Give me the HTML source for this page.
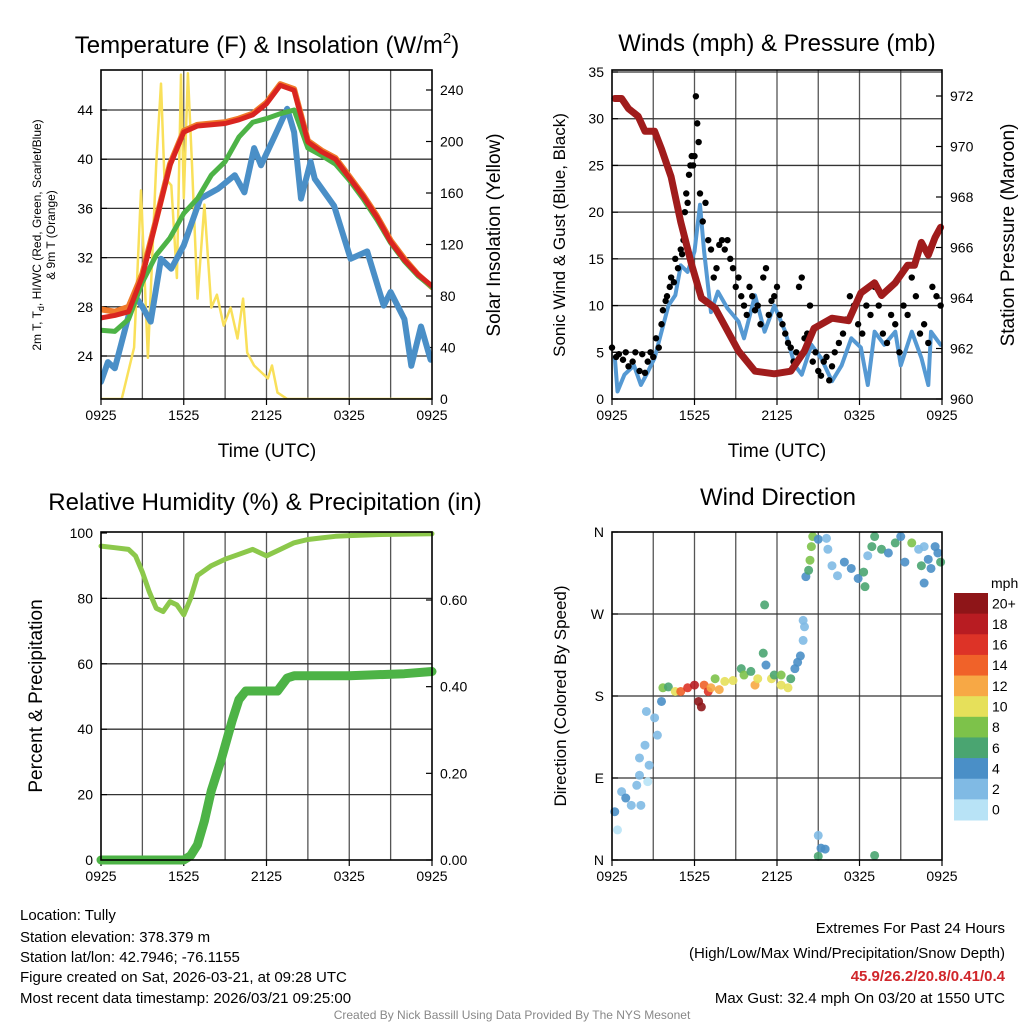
<!DOCTYPE html>
<html><head><meta charset="utf-8"><style>
body{margin:0;background:#fff;}
svg{display:block;font-family:"Liberation Sans",sans-serif;}
</style></head><body>
<svg id="s" width="1024" height="1024" viewBox="0 0 1024 1024">
<g id="titles" font-size="24" text-anchor="middle" fill="#000">
<text x="267" y="53">Temperature (F) &amp; Insolation (W/m<tspan dy="-10" font-size="15">2</tspan><tspan dy="10">)</tspan></text>
<text x="777" y="51">Winds (mph) &amp; Pressure (mb)</text>
<text x="265" y="510">Relative Humidity (%) &amp; Precipitation (in)</text>
<text x="778" y="505">Wind Direction</text>
</g>
<g id="axtitles" font-size="19" text-anchor="middle">
<text x="267" y="457">Time (UTC)</text>
<text x="777" y="457">Time (UTC)</text>
<text transform="translate(500,235) rotate(-90)">Solar Insolation (Yellow)</text>
<text transform="translate(565,235) rotate(-90)" font-size="17">Sonic Wind &amp; Gust (Blue, Black)</text>
<text transform="translate(1014,235) rotate(-90)">Station Pressure (Maroon)</text>
<text transform="translate(42,696) rotate(-90)">Percent &amp; Precipitation</text>
<text transform="translate(566,696) rotate(-90)" font-size="17">Direction (Colored By Speed)</text>
<text transform="translate(41,235) rotate(-90)" font-size="12">2m T, T<tspan font-size="9" dy="3">d</tspan><tspan dy="-3">, HI/WC (Red, Green, Scarlet/Blue)</tspan></text>
<text transform="translate(55,235) rotate(-90)" font-size="12">&amp; 9m T (Orange)</text>
</g>
<g id="footer" font-size="15">
<text x="20" y="920">Location: Tully</text>
<text x="20" y="942">Station elevation: 378.379 m</text>
<text x="20" y="962">Station lat/lon: 42.7946; -76.1155</text>
<text x="20" y="982">Figure created on Sat, 2026-03-21, at 09:28 UTC</text>
<text x="20" y="1003">Most recent data timestamp: 2026/03/21 09:25:00</text>
<g text-anchor="end">
<text x="1005" y="933">Extremes For Past 24 Hours</text>
<text x="1005" y="958">(High/Low/Max Wind/Precipitation/Snow Depth)</text>
<text x="1005" y="981" fill="#d0262b" font-weight="bold">45.9/26.2/20.8/0.41/0.4</text>
<text x="1005" y="1003">Max Gust: 32.4 mph On 03/20 at 1550 UTC</text>
</g>
<text x="512" y="1019" font-size="12" fill="#888" text-anchor="middle">Created By Nick Bassill Using Data Provided By The NYS Mesonet</text>
</g>
</svg>
<script>
// ---------- data ----------
const xTickLabels=["0925","1525","2125","0325","0925"];
const tempTimes=[0,1,2,3,4,5,6,7,8,9,10,11,12,13,14,15,16,17,18,19,20,21,22,23,24];
const tempRed=[27.1,27.3,27.6,30.5,35,39.5,42.2,42.7,42.8,42.9,43.2,43.6,44.5,46,45.6,41.4,40.6,40.0,38.5,37.0,35.3,33.3,31.8,30.6,29.7];
const tempOrange=[27.8,27.6,28.0,30.7,35.1,39.6,42.3,42.8,42.9,43.0,43.3,43.7,44.6,46.1,45.7,41.5,40.7,40.1,38.6,37.1,35.4,33.4,31.9,30.6,29.6];
const tempGreen=[26.1,26.0,27.0,30.0,32.2,33.6,35.6,36.8,38.7,39.8,41.8,43.0,43.3,43.7,44.0,40.9,40.3,39.6,38.3,36.8,35.1,33.2,31.7,30.5,29.6];
const wcTimes=[0,0.5,1,1.45,2.4,3.0,3.6,4.35,5.1,6,7.2,8.5,9.7,10.4,11.1,11.6,12.6,13.5,14,14.5,15.2,15.5,16.9,18.1,19.3,20.5,21,22,22.5,23.2,23.9];
const wcBlue=[21.9,23.5,23.0,24.9,29,28,26.8,31.9,31.1,33,36.8,37.6,38.7,37.3,40.9,39.5,41.9,44.1,42.2,36.8,39.8,38.4,36.2,31.9,32.5,28.1,29.2,27,23.2,26.4,23.7];
const solarTimes=[0,1.5,2.4,2.9,3.4,4.0,4.35,4.6,5.1,5.5,5.8,6.0,6.3,6.6,7.0,7.5,8.0,8.4,8.9,9.4,9.9,10.3,10.6,11.1,11.6,12.1,12.4,12.8,13.5,24];
const solarVals=[0,0,40,162,32,182,245,172,166,94,252,156,253,182,78,151,71,81,57,71,47,78,36,26,21,16,26,5,0,0];
const tempTicks=[24,28,32,36,40,44];
const solarTicks=[0,40,80,120,160,200,240];

const presTimes=[0.2,0.7,1.2,1.9,2.4,3.1,3.6,4.3,5.0,5.8,6.5,7.5,8.2,9.2,10.4,11.8,13.0,14.0,14.7,16.0,17.2,18.1,19.1,19.6,20.6,21.5,22.0,22.5,23.0,23.5,23.9];
const presVals=[971.9,971.9,971.5,971.2,970.6,970.6,969.9,968.8,967.0,965.3,964.0,963.6,962.9,961.9,961.1,961.0,961.1,961.9,962.8,963.2,963.1,964.2,964.6,964.1,964.6,965.3,965.3,966.2,965.7,966.4,966.8];
const windTimes=[0.2,0.4,0.9,1.6,2.1,2.6,3.1,3.6,4.1,4.6,5.0,5.5,6.0,6.4,6.7,7.2,7.7,8.4,9.2,9.6,10.4,11.1,11.8,12.6,13.3,13.8,14.5,15.2,16.0,16.7,17.4,18.1,18.6,19.1,19.8,20.6,21.0,21.8,22.5,23.0,23.2,23.9];
const windVals=[4.5,0.8,2.6,3.6,1.5,2.9,4.4,7.2,10,11.1,14.3,13.6,15.8,20.8,15.8,9.3,11.5,9.7,8.3,6.5,11.1,7.2,10,7.2,3.6,2.6,5.8,4.4,1.9,3.6,6.5,5.5,1.5,7.2,5.8,7.2,3.6,7.2,4.4,1.5,7.2,5.8];
const gustTimes=[0,0.3,0.5,0.8,1.0,1.2,1.5,1.7,2.0,2.2,2.4,2.6,2.8,3.0,3.2,3.4,
3.6,3.7,3.9,4.0,4.2,4.3,4.5,4.6,4.8,5.0,
5.1,5.2,5.3,5.4,5.5,5.6,5.7,5.8,5.9,6.0,6.1,6.2,6.3,6.4,
6.6,6.8,7.0,7.2,7.4,7.6,7.8,8.0,8.2,8.4,8.6,8.8,
9.0,9.2,9.4,9.6,9.8,10.0,10.2,10.4,10.6,10.8,11.0,11.2,11.4,11.6,11.8,
12.0,12.2,12.4,12.6,12.8,13.0,13.2,13.4,
13.6,13.8,14.0,14.2,14.4,14.6,14.8,15.0,15.2,15.4,15.6,15.8,16.0,16.2,
16.5,16.8,17.0,17.3,17.6,17.9,18.2,18.5,18.8,19.1,19.4,19.7,20.0,20.3,20.6,20.9,21.2,21.5,21.8,22.1,22.4,22.7,23.0,23.3,23.6,23.9];
const gustVals=[5.5,4.5,4.8,4.2,5,3.5,4,5,3,4.8,2.8,4,5,4.5,6.5,5.5,
8,9.5,10.5,11,12,13,12.5,15,14,16,
15.5,17,20,22,21,24,25,26,25,26,32.4,29.5,27.5,22,
19,21,17,16,13,14,16.5,17,16,17,15,14,
12,13,11,10,9,12,11,9.5,10,8,13,14,9,10.5,11,
12,9,8,7,6,5.5,4,5,
12,13,6.5,7,10,4,5,3,2.5,4,4.5,2,3.5,5,
6,7,8.5,11,10,8,7,10,9,12,10,7,6,9,8,5,10,9,13,11,7,8,6,12,11,10];
const windTicks=[0,5,10,15,20,25,30,35];
const presTicks=[960,962,964,966,968,970,972];

const rhTimes=[0,1,2,2.5,3,3.5,4,4.5,5,5.5,6,6.5,7,8,9,10,11,12,13,14,15,16,17,18,20,24];
const rhVals=[96,95.5,95,93,88,82,77,76,79,78,75,80,87,90,92,93.5,95,93,95,97,98,98.5,99,99.2,99.5,99.8];
const prTimes=[0,6.0,6.5,7,7.5,8,8.7,9.5,10,10.5,12.8,13.5,14,18,22,24];
const prVals=[0,0,0.01,0.035,0.09,0.16,0.23,0.32,0.37,0.39,0.39,0.42,0.425,0.425,0.43,0.435];
const rhTicks=[0,20,40,60,80,100];
const prTicks=[0,0.2,0.4,0.6];
const prTickLabels=["0.00","0.20","0.40","0.60"];

const dirTimes=[0.2,0.4,0.7,1.0,1.4,1.8,2.1,2.0,2.6,2.7,2.4,2.0,3.1,2.5,3.3,3.6,3.7,4.1,4.6,5.0,5.5,6.0,6.3,6.5,6.7,7.0,7.2,7.5,7.8,8.2,8.8,9.4,9.6,10.1,10.4,10.6,11.1,11.0,11.2,11.6,11.8,12.3,12.3,12.8,13.0,13.3,13.5,13.7,13.9,14.0,13.9,14.1,14.3,14.4,14.5,14.6,15.0,15.6,15.7,16.0,16.4,16.9,17.4,17.9,18.3,18.4,15.0,15.2,15.5,15.0,19.1,18.6,18.9,19.1,19.6,20.1,20.6,21.0,21.3,21.8,22.3,22.5,22.7,23.0,23.2,23.5,23.7,23.9,22.7];
const dirVals=[53,33,75,68,60,82,60,93,86,104,126,112,156,163,137,174,189,190,185,185,189,192,174,168,192,185,189,199,187,196,197,210,203,207,192,199,280,227,214,199,203,203,192,189,199,210,217,224,241,256,263,311,318,329,344,355,352,353,341,323,312,327,320,309,316,300,27,13,12,4,5,334,344,355,341,337,348,355,327,348,341,323,304,330,320,344,337,327,344];
const dirSpeeds=[4,0,2,4,2,2,2,2,0,2,2,2,2,2,2,4,8,6,10,14,16,18,20,20,14,16,12,8,12,10,10,6,8,6,12,10,6,6,4,10,6,8,10,10,6,4,4,4,2,2,2,4,6,8,8,8,4,2,2,2,2,4,4,4,6,6,2,4,4,6,6,2,6,6,6,4,6,4,4,8,2,6,4,4,4,4,4,6,2];
const dirTicks=[0,90,180,270,360];
const dirTickLabels=["N","E","S","W","N"];
const cbLabels=["20+","18","16","14","12","10","8","6","4","2","0"];
const cbColors=["#8e1518","#b81c22","#dd3327","#f06229","#f7a845","#e6e05a","#7dc24a","#4aa571","#4a8fc7","#80bae4","#b8e3f6"];

// ---------- drawing ----------
const NS="http://www.w3.org/2000/svg";
const svg=document.getElementById('s');
function mk(tag,attrs,parent){const e=document.createElementNS(NS,tag);for(const k in attrs)e.setAttribute(k,attrs[k]);(parent||svg).appendChild(e);return e;}
function lin(d0,d1,r0,r1){return v=>r0+(v-d0)*(r1-r0)/(d1-d0);}

function panel(name,x0,x1,y0,y1,yScale,yTicks,yLabels){
  const g=mk('g',{});
  
  
  const xs=lin(0,24,x0,x1);
  for(let h=3;h<24;h+=3){const l=mk('line',{x1:xs(h),x2:xs(h),y1:y0,y2:y1,stroke:'#555','stroke-width':1.3},g);
    }
  yTicks.forEach((t,i)=>{const y=yScale(t);
    if(y>y0+1&&y<y1-1){const l=mk('line',{x1:x0,x2:x1,y1:y,y2:y,stroke:'#333','stroke-width':1.3},g);
      }
    const tx=mk('text',{x:x0-8,y:y+5,'font-size':14,'text-anchor':'end'},g);tx.textContent=yLabels[i];
    
    mk('line',{x1:x0,x2:x0+6,y1:y,y2:y,stroke:'#000','stroke-width':1.2},g);
  });
  xTickLabels.forEach((lab,i)=>{const x=xs(i*6);
    const tx=mk('text',{x:x,y:y1+21,'font-size':14,'text-anchor':'middle'},g);tx.textContent=lab;
    
    mk('line',{x1:x,x2:x,y1:y1,y2:y1+6,stroke:'#000','stroke-width':1.2},g);
  });
  return {g,xs};
}
function frame(x0,x1,y0,y1){const r=mk('rect',{x:x0,y:y0,width:x1-x0,height:y1-y0,fill:'none',stroke:'#000','stroke-width':1.6});
  }
function rightTicks(g,x1,scale,ticks,labels,dataName){
  ticks.forEach((t,i)=>{const y=scale(t);
    mk('line',{x1:x1-6,x2:x1,y1:y,y2:y,stroke:'#000','stroke-width':1.2},g);
    const tx=mk('text',{x:x1+8,y:y+5,'font-size':14},g);tx.textContent=labels[i];
    });
}
function path(g,ts,vs,xs,ys,color,w,name){
  const d=ts.map((t,i)=>(i?'L':'M')+xs(t).toFixed(1)+','+ys(vs[i]).toFixed(1)).join('');
  const p=mk('path',{d:d,fill:'none',stroke:color,'stroke-width':w,'stroke-linejoin':'round','stroke-linecap':'round'},g);
  return p;
}

// Panel 1
(function(){
  const x0=101,x1=432,y0=70,y1=399;
  const ys=lin(44,24,110,356);
  const ss=lin(0,240,399,90);
  const {g,xs}=panel('temperature-panel',x0,x1,y0,y1,ys,tempTicks,tempTicks.map(String));
  rightTicks(g,x1,ss,solarTicks,solarTicks.map(String),'solar-tick-label');
  const cg=mk('g',{'clip-path':'url(#c1)'},g);
  const cp=mk('clipPath',{id:'c1'},svg);mk('rect',{x:x0,y:y0,width:x1-x0,height:y1-y0},cp);
  path(cg,solarTimes,solarVals,xs,ss,'#f9e05a',2.5,'solar-insolation-line');
  path(cg,wcTimes,wcBlue,xs,ys,'#4a8fc7',6,'windchill-line');
  path(cg,tempTimes,tempOrange,xs,ys,'#f07a2a',6,'temp-9m-line');
  path(cg,tempTimes,tempGreen,xs,ys,'#4db346',5,'dewpoint-line');
  path(cg,tempTimes,tempRed,xs,ys,'#d92420',5,'temp-2m-line');
  frame(x0,x1,y0,y1);
})();

// Panel 2
(function(){
  const x0=612,x1=942,y0=70,y1=399;
  const ys=lin(0,35,399,72);
  const ps=lin(960,972,399,96);
  const {g,xs}=panel('wind-panel',x0,x1,y0,y1,ys,windTicks,windTicks.map(String));
  rightTicks(g,x1,ps,presTicks,presTicks.map(String),'pressure-tick-label');
  path(g,windTimes,windVals,xs,ys,'#5599d3',4,'wind-speed-line');
  gustTimes.forEach((t,i)=>{if(gustVals[i]===undefined)return;
    const c=mk('circle',{cx:xs(t),cy:ys(gustVals[i]),r:3.2,fill:'#000'},g);
    });
  path(g,presTimes,presVals,xs,ps,'#a01c1c',7,'pressure-line');
  frame(x0,x1,y0,y1);
})();

// Panel 3
(function(){
  const x0=101,x1=432,y0=532,y1=860;
  const ys=lin(0,100,860,533);
  const ps=lin(0,0.6,860,600);
  const {g,xs}=panel('humidity-panel',x0,x1,y0,y1,ys,rhTicks,rhTicks.map(String));
  rightTicks(g,x1,ps,prTicks,prTickLabels,'precip-tick-label');
  path(g,rhTimes,rhVals,xs,ys,'#8cc84b',5,'relative-humidity-line');
  path(g,prTimes,prVals,xs,ps,'#4db346',9,'precipitation-line');
  frame(x0,x1,y0,y1);
})();

// Panel 4
(function(){
  const x0=612,x1=942,y0=532,y1=860;
  const ys=lin(0,360,860,532);
  const {g,xs}=panel('direction-panel',x0,x1,y0,y1,ys,dirTicks,dirTickLabels);
  dirTimes.forEach((t,i)=>{if(dirVals[i]===undefined)return;
    const idx=Math.min(10,Math.floor(dirSpeeds[i]/2));
    const c=mk('circle',{cx:xs(t),cy:ys(dirVals[i]),r:4.5,fill:cbColors[10-idx],'fill-opacity':0.9},g);
    });
  frame(x0,x1,y0,y1);
  const cb=mk('g',{});
  
  
  const h=227/11;
  cbColors.forEach((col,i)=>{const r=mk('rect',{x:954,y:593+i*h,width:34,height:h+0.5,fill:col},cb);
    
    const t=mk('text',{x:992,y:593+i*h+h/2+5,'font-size':14},cb);t.textContent=cbLabels[i];
    });
  const u=mk('text',{x:991,y:588,'font-size':14},cb);u.textContent='mph';
  
})();
</script>
</body></html>
